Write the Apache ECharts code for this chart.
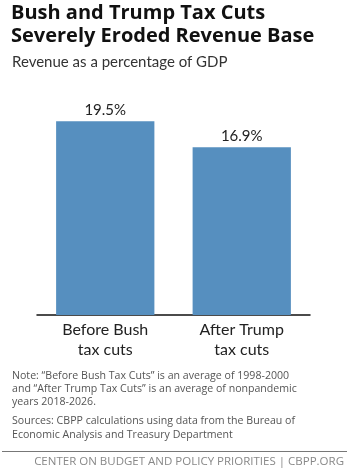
<!DOCTYPE html>
<html><head><meta charset="utf-8">
<script src="https://cdn.jsdelivr.net/npm/echarts@6/dist/echarts.min.js"></script>
<style>html,body{margin:0;padding:0;background:#fff}#c{width:347px;height:470px}</style>
</head><body><div id="c"></div>
<script>
const categories = ["Before Bush\ntax cuts", "After Trump\ntax cuts"];
const values = [19.5, 16.9];
const titleLines = ["Bush and Trump Tax Cuts", "Severely Eroded Revenue Base"];
const subtitle = "Revenue as a percentage of GDP";
const noteLines = ["Note: \u201cBefore Bush Tax Cuts\u201d is an average of 1998-2000", "and \u201cAfter Trump Tax Cuts\u201d is an average of nonpandemic", "years 2018-2026."];
const sourceLines = ["Sources: CBPP calculations using data from the Bureau of", "Economic Analysis and Treasury Department"];
const footer = "CENTER ON BUDGET AND POLICY PRIORITIES | CBPP.ORG";

const FONT = "Lato, 'Open Sans', sans-serif";
const OS = "'Open Sans', sans-serif";
const chart = echarts.init(document.getElementById('c'), null, {renderer:'canvas'});
chart.setOption({
  animation:false,
  grid:{left:37, right:37, top:116.4, bottom:155},
  xAxis:{type:'category', data:categories,
    axisLine:{lineStyle:{color:'#111', width:1.5}}, axisTick:{show:false},
    axisLabel:{color:'#222', fontSize:16, lineHeight:20, fontFamily:FONT, margin:5}},
  yAxis:{type:'value', min:0, max:20, show:false, splitLine:{show:false}},
  series:[{type:'bar', data:values, barWidth:'72%',
    itemStyle:{color:'#568fbf'},
    label:{show:true, position:'top', distance:4, color:'#222', fontSize:15, fontFamily:FONT,
      formatter:p=>p.value.toFixed(1)+'%'}}],
  graphic:[
    {type:'text', left:11, top:2, style:{text:titleLines.join('\n'), font:"bold 20px "+OS, lineHeight:23, fill:'#111'}},
    {type:'text', left:12, top:55, style:{text:subtitle, font:"15px "+FONT, fill:'#333'}},
    {type:'text', left:12, top:369, style:{text:noteLines.join('\n'), font:"10.6px "+OS, lineHeight:13.3, fill:'#555'}},
    {type:'text', left:12, top:414, style:{text:sourceLines.join('\n'), font:"10.6px "+OS, lineHeight:14, fill:'#555'}},
    {type:'line', shape:{x1:2, y1:451.5, x2:347, y2:451.5}, style:{stroke:'#777', lineWidth:1}},
    {type:'text', right:3, top:456, style:{text:footer, font:"11.5px "+OS, fill:'#888'}}
  ]
});
</script></body></html>
